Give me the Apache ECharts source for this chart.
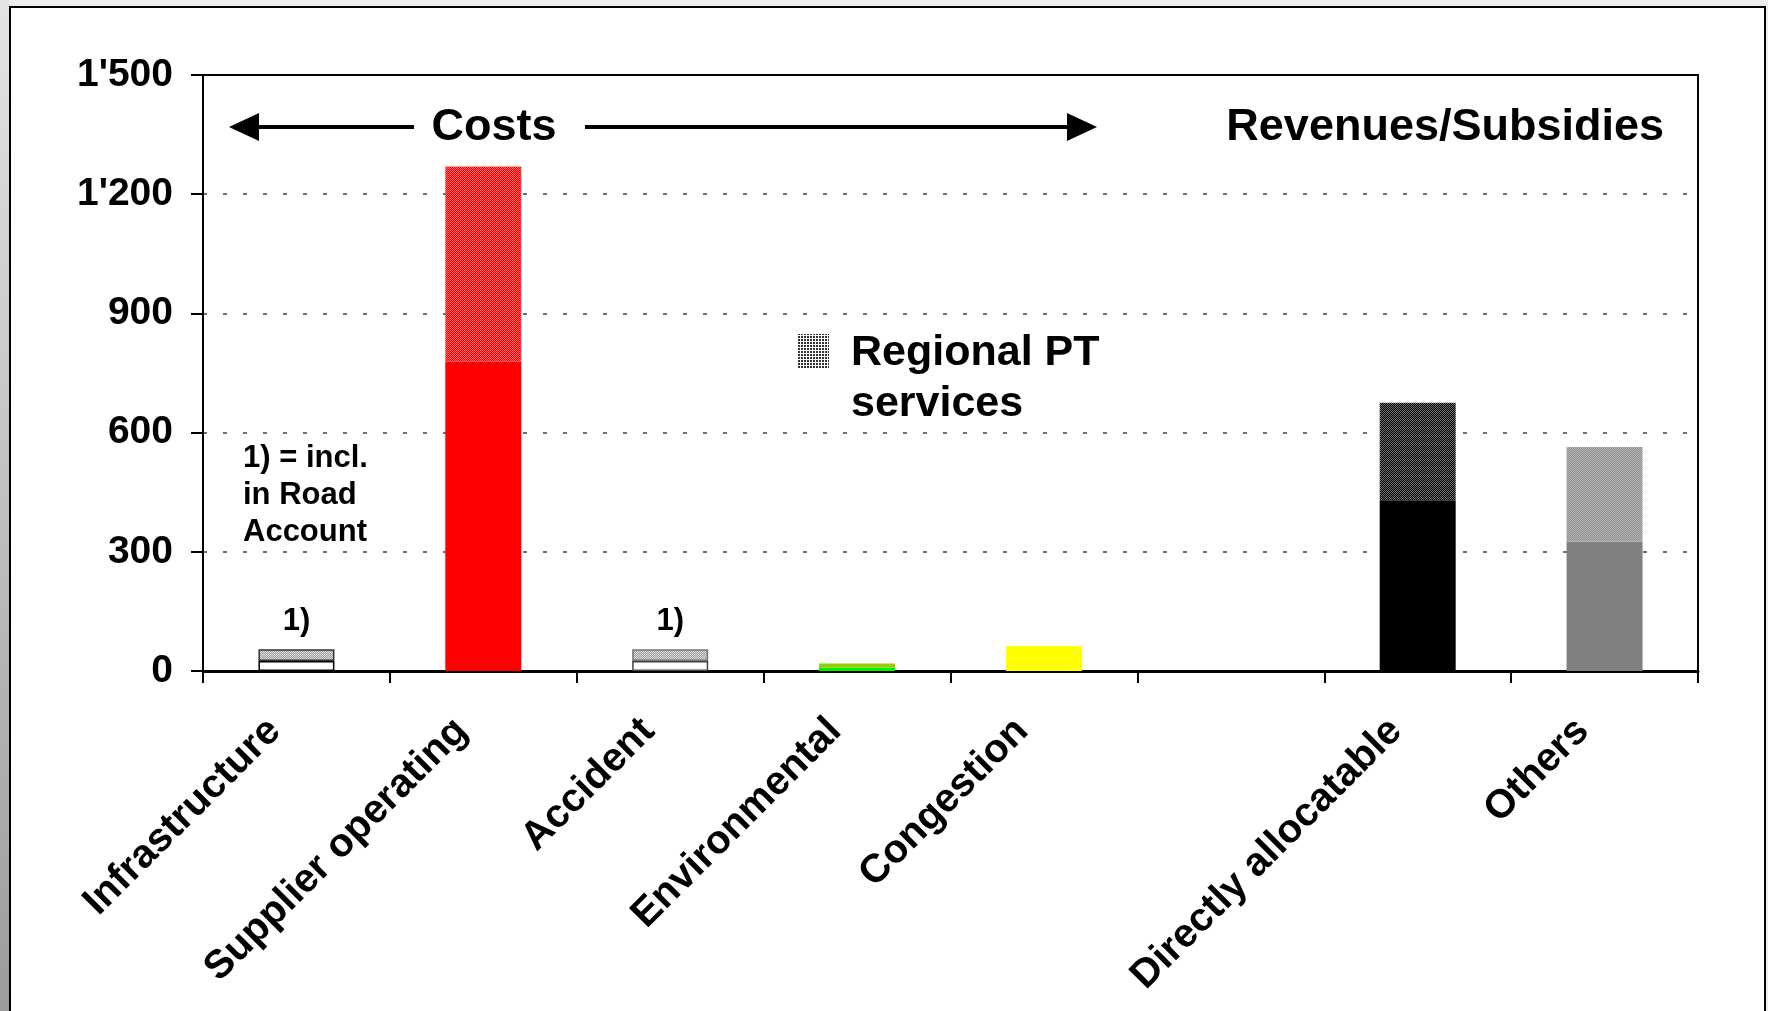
<!DOCTYPE html>
<html>
<head>
<meta charset="utf-8">
<script src="https://cdn.jsdelivr.net/npm/echarts@6/dist/echarts.min.js"></script>
<style>
  html, body { margin: 0; padding: 0; width: 1768px; height: 1011px; overflow: hidden; background: #ededed; }
  #strip { position: absolute; left: 0; top: 0; width: 9px; height: 1011px; background: linear-gradient(to bottom, #e4e4e4, #9c9c9c); }
  #frame { position: absolute; left: 9px; top: 6px; width: 1753px; height: 1100px; border: 2px solid #000; background: #fff; }
  #chart { position: absolute; left: 0; top: 0; width: 1768px; height: 1011px; }
</style>
</head>
<body>
<div id="strip"></div>
<div id="frame"></div>
<div id="chart"></div>
<script>
// ---------------- data ----------------
const categories = ['Infrastructure', 'Supplier operating', 'Accident', 'Environmental', 'Congestion', '', 'Directly allocatable', 'Others'];
const otherValues = [25, 779, 25, 9, 63, 0, 430, 326];          // solid part
const regionalPTValues = [30, 491, 30, 10, 0, 0, 245, 238];      // hatched part (Regional PT services)
const notes = ['1)', '', '1)', '', '', '', '', ''];
const yTicks = [0, 300, 600, 900, 1200, 1500];

// ---------------- styles ----------------
function pattern(size, fn) {
  const c = document.createElement('canvas');
  c.width = size; c.height = size;
  const ctx = c.getContext('2d');
  for (let x = 0; x < size; x++) for (let y = 0; y < size; y++) {
    ctx.fillStyle = fn(x, y); ctx.fillRect(x, y, 1, 1);
  }
  return { image: c, repeat: 'repeat' };
}
const checker = (a, b) => pattern(2, (x, y) => ((x + y) % 2 ? a : b));
const solidColors = ['#ffffff', '#ff0000', '#ffffff', '#00ee00', '#ffff00', '#ffffff', '#000000', '#808080'];
const hatchColors = [
  checker('#9a9a9a', '#e0e0e0'),
  checker('#ff0000', '#ff6a6a'),
  checker('#9a9a9a', '#e0e0e0'),
  '#99cc00',
  '#ffff00',
  '#ffffff',
  checker('#000000', '#707070'),
  checker('#8c8c8c', '#b8b8b8')
];
const solidBorder = ['#000', null, '#444', null, null, null, null, null];
const hatchBorder = ['#333', null, '#777', null, null, null, null, null];
const legendFill = pattern(3, (x, y) => (x < 2 && y < 2 ? '#333333' : '#ffffff'));

const FONT = '"Liberation Sans", Arial, sans-serif';

const chart = echarts.init(document.getElementById('chart'), null, { renderer: 'canvas' });

const option = {
  backgroundColor: 'transparent',
  animation: false,
  grid: {
    left: 203, right: 70, top: 75, bottom: 340,
    show: true, borderColor: '#000', borderWidth: 2, backgroundColor: 'transparent',
    outerBoundsMode: 'none'
  },
  xAxis: {
    type: 'category',
    data: categories,
    axisLine: { lineStyle: { color: '#000', width: 3 } },
    axisTick: { show: true, length: 12, lineStyle: { color: '#000', width: 2 } },
    axisLabel: {
      interval: 0, rotate: 45, margin: 32, padding: [0, 31, 0, 0],
      fontFamily: FONT, fontWeight: 'bold', fontSize: 40, color: '#000'
    }
  },
  yAxis: {
    type: 'value',
    min: yTicks[0], max: yTicks[yTicks.length - 1], interval: yTicks[1] - yTicks[0],
    axisLine: { show: true, lineStyle: { color: '#000', width: 2 } },
    axisTick: { show: true, length: 12, lineStyle: { color: '#000', width: 2 } },
    axisLabel: {
      margin: 30, padding: [5, 0, 0, 0], fontFamily: FONT, fontWeight: 'bold', fontSize: 39, color: '#000',
      formatter: v => v >= 1000 ? Math.floor(v / 1000) + "'" + String(v % 1000).padStart(3, '0') : String(v)
    },
    splitLine: { show: true, showMinLine: false, showMaxLine: false, lineStyle: { color: '#707070', width: 2, type: [4, 16] } }
  },
  series: [
    {
      name: 'Other', type: 'bar', stack: 'total', barWidth: 76,
      data: otherValues.map((v, i) => ({
        value: v,
        itemStyle: { color: solidColors[i], borderColor: solidBorder[i] || undefined, borderWidth: solidBorder[i] ? 1.5 : 0 }
      }))
    },
    {
      name: 'Regional PT services', type: 'bar', stack: 'total', barWidth: 76,
      data: regionalPTValues.map((v, i) => ({
        value: v,
        itemStyle: { color: hatchColors[i], borderColor: hatchBorder[i] || undefined, borderWidth: hatchBorder[i] ? 1.5 : 0 }
      })),
      label: {
        show: true, position: 'top', distance: 12,
        formatter: p => notes[p.dataIndex],
        fontFamily: FONT, fontWeight: 'bold', fontSize: 31, color: '#000'
      }
    }
  ],
  graphic: [
    // left arrow
    { type: 'line', shape: { x1: 256, y1: 127, x2: 414, y2: 127 }, style: { stroke: '#000', lineWidth: 4 } },
    { type: 'polygon', shape: { points: [[229, 127], [259, 113], [259, 141]] }, style: { fill: '#000' } },
    { type: 'text', x: 494, y: 128, style: { text: 'Costs', font: 'bold 45px ' + FONT, fill: '#000', textAlign: 'center', textVerticalAlign: 'middle' } },
    // right arrow
    { type: 'line', shape: { x1: 585, y1: 127, x2: 1070, y2: 127 }, style: { stroke: '#000', lineWidth: 4 } },
    { type: 'polygon', shape: { points: [[1097, 127], [1067, 113], [1067, 141]] }, style: { fill: '#000' } },
    { type: 'text', x: 1664, y: 128, style: { text: 'Revenues/Subsidies', font: 'bold 45px ' + FONT, fill: '#000', textAlign: 'right', textVerticalAlign: 'middle' } },
    // legend
    { type: 'rect', shape: { x: 797, y: 334, width: 32, height: 35 }, style: { fill: legendFill } },
    { type: 'text', x: 851, y: 328, style: { text: 'Regional PT\nservices', font: 'bold 43px ' + FONT, lineHeight: 51, fill: '#000', textAlign: 'left', textVerticalAlign: 'top' } },
    // footnote
    { type: 'text', x: 243, y: 440, style: { text: '1) = incl.\nin Road\nAccount', font: 'bold 31px ' + FONT, lineHeight: 37, fill: '#000', textAlign: 'left', textVerticalAlign: 'top' } }
  ]
};
chart.setOption(option);
</script>
</body>
</html>
